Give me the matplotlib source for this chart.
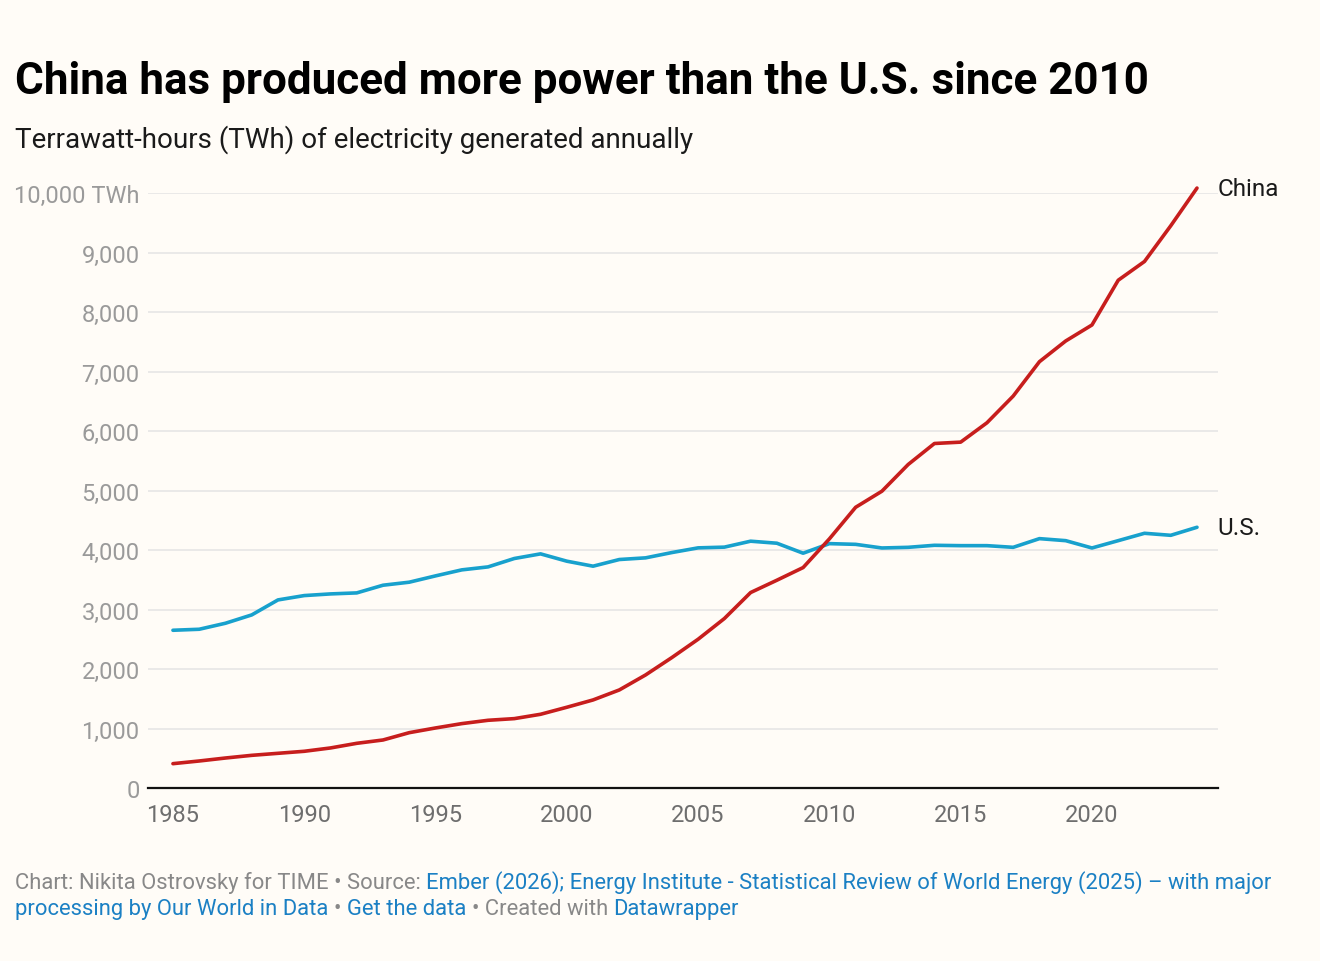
import matplotlib
matplotlib.use('Agg')
import matplotlib.pyplot as plt
from matplotlib.ticker import FixedLocator, FuncFormatter

plt.rcParams['font.family'] = ['Roboto', 'DejaVu Sans']

# Datos (TWh)
years = list(range(1985, 2025))
china = [409, 454, 504, 549, 583, 617, 673, 751, 807, 930,
         1009, 1082, 1138, 1166, 1239, 1357, 1480, 1648, 1900, 2192,
         2500, 2848, 3285, 3492, 3705, 4187, 4718, 4988, 5437, 5790,
         5813, 6138, 6587, 7165, 7513, 7782, 8534, 8849, 9449, 10083]
us = [2651, 2668, 2769, 2909, 3161, 3234, 3262, 3279, 3408, 3459,
      3565, 3666, 3716, 3857, 3935, 3812, 3728, 3840, 3868, 3957,
      4036, 4048, 4148, 4114, 3946, 4107, 4095, 4034, 4045, 4079,
      4073, 4073, 4045, 4191, 4157, 4034, 4157, 4281, 4247, 4382]
y_ticks = [0, 1000, 2000, 3000, 4000, 5000, 6000, 7000, 8000, 9000, 10000]
x_ticks = [1985, 1990, 1995, 2000, 2005, 2010, 2015, 2020]

BG = '#fffcf7'
RED = '#c71e1d'
BLUE = '#18a1cd'
GREY = '#888888'
LINK = '#1b80c4'

W, H = 1320, 962
fig = plt.figure(figsize=(W / 100, H / 100), dpi=100, facecolor=BG)
ax = fig.add_axes([148 / W, 1 - 789 / H, 1070 / W, 595 / H], facecolor=BG)

ax.plot(years, us, color=BLUE, lw=2.6, solid_capstyle='round', solid_joinstyle='round',
        zorder=3, clip_on=False)
ax.plot(years, china, color=RED, lw=2.6, solid_capstyle='round', solid_joinstyle='round',
        zorder=4, clip_on=False)

ax.set_xlim(1984.05, 2024.8)
ax.set_ylim(0, 10000)

ax.yaxis.set_major_locator(FixedLocator(y_ticks))
ax.yaxis.set_major_formatter(FuncFormatter(
    lambda v, p: f'{int(v):,} TWh' if v == y_ticks[-1] else f'{int(v):,}'))
ax.xaxis.set_major_locator(FixedLocator(x_ticks))

ax.grid(axis='y', color='#e6e6e6', lw=1.2, zorder=0)
ax.set_axisbelow(True)
for s in ['top', 'right', 'left']:
    ax.spines[s].set_visible(False)
ax.spines['bottom'].set_color('#111111')
ax.spines['bottom'].set_linewidth(1.6)
ax.spines['bottom'].set_zorder(5)

ax.tick_params(axis='y', length=0, pad=6, labelsize=17, labelcolor='#9a9a9a')
ax.tick_params(axis='x', length=0, pad=11, labelsize=17, labelcolor='#6e6e6e')

# Etiquetas al final de las líneas
ax.annotate('China', (years[-1], china[-1]), xytext=(15, 0), textcoords='offset points',
            va='center', ha='left', fontsize=17.5, color='#1a1a1a', annotation_clip=False)
ax.annotate('U.S.', (years[-1], us[-1]), xytext=(15, 0), textcoords='offset points',
            va='center', ha='left', fontsize=17.5, color='#1a1a1a', annotation_clip=False)

# Título y subtítulo
fig.text(15 / W, 1 - 94 / H, 'China has produced more power than the U.S. since 2010',
         fontsize=31.7, fontweight='bold', color='#000000', va='baseline', ha='left')
fig.text(15 / W, 1 - 148 / H, 'Terrawatt-hours (TWh) of electricity generated annually',
         fontsize=20, color='#1a1a1a', va='baseline', ha='left')

# Pie con textos de varios colores
renderer = fig.canvas.get_renderer()
FS = 15.8


def text_width(s):
    t = fig.text(0, 0, s, fontsize=FS)
    w = t.get_window_extent(renderer).width
    t.remove()
    return w


space_w = text_width('a a') - text_width('aa')


def draw_runs(x_px, y_px, runs):
    x = x_px
    for s, c in runs:
        lead = len(s) - len(s.lstrip(' '))
        trail = len(s) - len(s.rstrip(' '))
        core = s.strip(' ')
        x += lead * space_w
        t = fig.text(x / W, 1 - y_px / H, core, fontsize=FS, color=c, va='baseline', ha='left')
        x += t.get_window_extent(renderer).width + trail * space_w


draw_runs(15, 889, [
    ('Chart: Nikita Ostrovsky for TIME • Source: ', GREY),
    ('Ember (2026); Energy Institute - Statistical Review of World Energy (2025) – with major', LINK),
])
draw_runs(15, 915, [
    ('processing by Our World in Data', LINK),
    (' • ', GREY),
    ('Get the data', LINK),
    (' • Created with ', GREY),
    ('Datawrapper', LINK),
])

fig.savefig('out.png', dpi=100, facecolor=BG)
